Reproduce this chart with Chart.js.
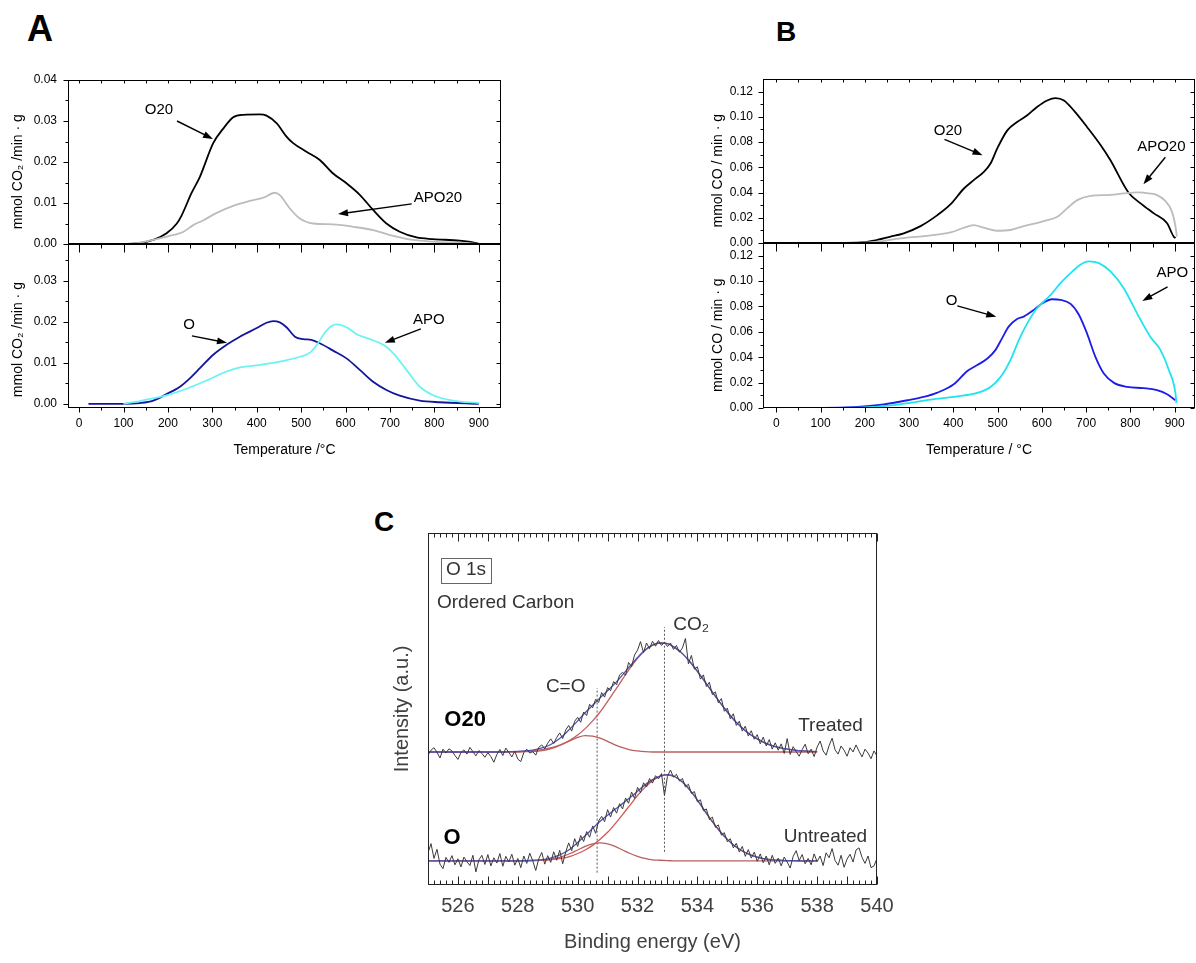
<!DOCTYPE html>
<html>
<head>
<meta charset="utf-8">
<script src="https://cdn.jsdelivr.net/npm/chart.js@4.4.1/dist/chart.umd.min.js"></script>
<style>
  body { margin: 0; background: #fff; width: 1196px; height: 963px; position: relative; overflow: hidden; font-family: "Liberation Sans", Arial, sans-serif; }
  canvas { position: absolute; }
  .tag { position: absolute; font-weight: bold; line-height: 1; color: #000; }
</style>
</head>
<body>
<div class="tag" style="left:27px;top:11px;font-size:36px">A</div>
<div class="tag" style="left:776px;top:18px;font-size:28px">B</div>
<div class="tag" style="left:374px;top:508px;font-size:28px">C</div>

<canvas id="aTop" width="510" height="186" style="left:0;top:70px"></canvas>
<canvas id="aBot" width="510" height="234" style="left:0;top:236px"></canvas>
<canvas id="bTop" width="506" height="186" style="left:690px;top:70px"></canvas>
<canvas id="bBot" width="506" height="234" style="left:690px;top:236px"></canvas>
<canvas id="xps" width="540" height="445" style="left:380px;top:515px"></canvas>

<script>
// ---- A: CO2 evolution (mmol CO2 / min g) vs temperature
const aO20T = [20, 107, 167, 197, 220, 231, 253, 272, 302, 325, 347, 370, 407, 422, 445, 467, 482, 512, 542, 572, 602, 632, 662, 692, 722, 760, 797, 857, 895, 900];
const aO20V = [0, 0, 0.001, 0.0026, 0.005, 0.007, 0.0124, 0.0164, 0.0246, 0.0282, 0.0309, 0.0315, 0.0316, 0.0313, 0.0294, 0.0262, 0.0246, 0.0225, 0.0205, 0.0172, 0.0148, 0.012, 0.0083, 0.005, 0.003, 0.0016, 0.0012, 0.0008, 0.0002, 0];
const aAPO20T = [120, 167, 197, 235, 257, 280, 310, 347, 385, 415, 441, 452, 475, 497, 527, 572, 617, 662, 707, 752, 797, 872, 900];
const aAPO20V = [0, 0.001, 0.0018, 0.003, 0.0046, 0.0058, 0.0076, 0.0093, 0.0105, 0.0113, 0.0125, 0.0119, 0.0086, 0.0062, 0.005, 0.0048, 0.0042, 0.0034, 0.002, 0.001, 0.0006, 0.0002, 0];
const aOT = [21, 100, 137, 167, 197, 227, 250, 272, 302, 332, 362, 400, 422, 437, 452, 467, 486, 505, 523, 542, 572, 602, 632, 662, 692, 722, 767, 812, 900];
const aOV = [0, 0, 0.0002, 0.0008, 0.0024, 0.0042, 0.0063, 0.0087, 0.012, 0.0144, 0.0164, 0.0185, 0.0198, 0.0202, 0.0199, 0.0187, 0.0164, 0.0158, 0.0156, 0.0148, 0.013, 0.0111, 0.0083, 0.0054, 0.0034, 0.002, 0.0008, 0.0004, 0];
const aAPOT = [100, 137, 160, 197, 242, 287, 332, 362, 407, 452, 497, 520, 538, 557, 580, 602, 625, 655, 685, 707, 737, 767, 797, 842, 900];
const aAPOV = [0, 0.0007, 0.0012, 0.0021, 0.0037, 0.0057, 0.0079, 0.0089, 0.0095, 0.0103, 0.0115, 0.0125, 0.0148, 0.0179, 0.0194, 0.0187, 0.017, 0.0158, 0.0144, 0.0124, 0.0083, 0.0042, 0.0021, 0.0008, 0.0002];

// ---- B: CO evolution (mmol CO / min g) vs temperature
const bO20T = [25, 183, 228, 258, 288, 326, 364, 394, 424, 446, 469, 484, 499, 522, 544, 567, 589, 612, 631, 650, 672, 702, 733, 755, 796, 823, 853, 883, 898, 902];
const bO20V = [0, 0.0003, 0.0024, 0.005, 0.0077, 0.0134, 0.0221, 0.0308, 0.0432, 0.0498, 0.0564, 0.063, 0.0748, 0.0893, 0.0959, 0.1012, 0.1078, 0.113, 0.1149, 0.113, 0.1051, 0.092, 0.0775, 0.0656, 0.0398, 0.0314, 0.0235, 0.0156, 0.005, 0.004];
const bAPO20T = [183, 228, 281, 334, 394, 424, 446, 469, 499, 529, 559, 605, 635, 657, 680, 710, 755, 785, 815, 845, 860, 877, 894, 902, 905];
const bAPO20V = [0, 0.001, 0.0037, 0.0055, 0.0084, 0.0121, 0.0142, 0.0121, 0.0097, 0.0103, 0.0134, 0.0174, 0.0208, 0.0274, 0.034, 0.0374, 0.0382, 0.0393, 0.0401, 0.0392, 0.038, 0.034, 0.0247, 0.0129, 0.005];
const bOT = [17, 145, 198, 243, 296, 333, 364, 401, 431, 454, 477, 495, 510, 525, 544, 559, 582, 601, 623, 642, 665, 684, 702, 721, 740, 763, 793, 830, 860, 883, 902];
const bOV = [0, 0.0003, 0.0013, 0.0029, 0.0061, 0.0087, 0.0121, 0.0187, 0.029, 0.0338, 0.039, 0.0456, 0.0549, 0.0641, 0.0701, 0.072, 0.0773, 0.0825, 0.0857, 0.0852, 0.082, 0.0733, 0.0588, 0.0403, 0.0272, 0.0198, 0.0166, 0.0156, 0.014, 0.0108, 0.0061];
const bAPOT = [145, 221, 288, 349, 409, 454, 484, 507, 529, 548, 567, 589, 620, 642, 665, 687, 706, 729, 755, 785, 815, 845, 868, 887, 902, 904];
const bAPOV = [0, 0.0008, 0.0034, 0.0066, 0.0092, 0.0119, 0.0166, 0.0245, 0.0377, 0.0535, 0.0667, 0.0786, 0.0891, 0.0984, 0.1063, 0.1129, 0.1155, 0.1142, 0.1076, 0.0944, 0.0746, 0.0562, 0.0456, 0.0298, 0.0113, 0.004];

// tick positions
const tXMajor = [0, 100, 200, 300, 400, 500, 600, 700, 800, 900];
const tXMinor = [50, 150, 250, 350, 450, 550, 650, 750, 850];
const aTopYMajor = [0, 0.01, 0.02, 0.03, 0.04];
const aBotYMajor = [0, 0.01, 0.02, 0.03];
const aYMinor = [0.005, 0.015, 0.025, 0.035];
const bYMajor = [0, 0.02, 0.04, 0.06, 0.08, 0.10, 0.12];
const bYMinor = [0.01, 0.03, 0.05, 0.07, 0.09, 0.11];

// ---- C: O 1s XPS (arbitrary intensity units)
const xpsE = [525.0,525.1,525.2,525.3,525.4,525.5,525.6,525.7,525.8,525.9,
  526.0,526.1,526.2,526.3,526.4,526.5,526.6,526.7,526.8,526.9,
  527.0,527.1,527.2,527.3,527.4,527.5,527.6,527.7,527.8,527.9,
  528.0,528.1,528.2,528.3,528.4,528.5,528.6,528.7,528.8,528.9,
  529.0,529.1,529.2,529.3,529.4,529.5,529.6,529.7,529.8,529.9,
  530.0,530.1,530.2,530.3,530.4,530.5,530.6,530.7,530.8,530.9,
  531.0,531.1,531.2,531.3,531.4,531.5,531.6,531.7,531.8,531.9,
  532.0,532.1,532.2,532.3,532.4,532.5,532.6,532.7,532.8,532.9,
  533.0,533.1,533.2,533.3,533.4,533.5,533.6,533.7,533.8,533.9,
  534.0,534.1,534.2,534.3,534.4,534.5,534.6,534.7,534.8,534.9,
  535.0,535.1,535.2,535.3,535.4,535.5,535.6,535.7,535.8,535.9,
  536.0,536.1,536.2,536.3,536.4,536.5,536.6,536.7,536.8,536.9,
  537.0,537.1,537.2,537.3,537.4,537.5,537.6,537.7,537.8,537.9,
  538.0,538.1,538.2,538.3,538.4,538.5,538.6,538.7,538.8,538.9,
  539.0,539.1,539.2,539.3,539.4,539.5,539.6,539.7,539.8,539.9,540.0];
const rawTreated = [37.2,38.6,39.3,38.0,36.4,38.9,37.8,39.0,38.4,37.1,
  36.0,37.9,38.7,37.5,39.4,38.2,37.0,38.5,37.7,36.6,
  37.9,36.8,35.2,37.4,38.8,37.1,39.2,38.0,36.7,38.3,
  36.1,35.4,37.9,38.9,37.8,38.2,37.2,39.4,40.1,39.0,
  40.6,41.8,40.5,42.2,43.5,41.9,44.3,45.6,44.0,46.8,
  47.9,46.5,49.4,48.4,51.6,50.6,53.0,52.1,54.9,53.6,
  56.3,55.4,58.0,57.1,59.9,60.6,59.8,63.4,62.2,65.5,
  66.9,69.3,66.2,68.9,67.3,69.4,68.0,69.6,68.2,69.1,
  67.9,68.9,67.1,68.2,66.3,67.5,70.2,63.0,65.4,61.5,
  62.2,58.7,59.9,56.6,57.8,54.3,55.1,52.0,53.2,49.6,
  50.5,47.5,48.9,45.6,46.8,44.0,45.4,42.6,44.1,41.7,
  43.0,40.4,42.3,39.8,41.6,38.9,40.7,38.6,40.4,37.7,
  41.9,37.4,39.6,38.2,36.9,38.8,40.3,37.6,38.9,36.8,
  39.5,41.2,38.4,37.2,39.9,42.0,38.7,37.5,39.8,38.6,
  36.9,39.3,38.1,40.1,38.3,36.7,38.9,37.8,36.2,38.4,37.0];
const rawUntreated = [9.6,12.2,8.0,10.6,6.4,5.1,8.3,6.9,8.8,6.2,
  7.9,5.6,8.4,7.1,6.0,8.9,4.2,7.6,8.9,6.3,
  9.1,5.9,8.2,6.7,9.4,5.8,8.6,7.0,9.2,6.1,
  8.0,5.4,8.7,6.6,9.5,7.3,4.6,7.9,9.7,6.4,
  8.8,6.9,9.9,7.5,10.3,6.5,9.8,12.4,10.2,13.6,
  11.4,14.5,12.8,15.6,14.0,17.2,15.1,18.6,19.9,18.4,
  21.8,19.7,22.4,20.8,23.5,22.0,25.1,23.6,26.8,25.0,
  28.1,26.6,29.4,28.2,30.6,29.3,31.4,30.5,32.0,25.8,
  31.2,33.0,31.0,31.8,29.9,30.6,28.2,29.0,26.4,26.9,
  24.0,24.6,21.5,22.0,19.0,19.7,16.8,17.5,14.6,15.3,
  12.7,13.6,11.0,12.3,9.8,11.4,8.6,10.5,8.1,9.8,
  7.2,9.3,6.8,8.7,6.2,8.9,6.6,8.1,5.9,8.4,
  7.0,5.3,8.6,10.2,7.4,9.1,6.5,8.0,6.2,9.3,
  7.1,8.7,6.0,9.6,8.2,10.8,7.4,6.1,8.9,5.5,
  7.8,9.2,7.0,10.4,11.0,8.3,6.6,8.7,5.4,5.9,8.0];

const fitE = [525,525.25,525.5,525.75,526,526.25,526.5,526.75,527,527.25,527.5,527.75,
  528,528.25,528.5,528.75,529,529.25,529.5,529.75,530,530.25,530.5,530.75,
  531,531.25,531.5,531.75,532,532.25,532.5,532.75,533,533.25,533.5,533.75,
  534,534.25,534.5,534.75,535,535.25,535.5,535.75,536,536.25,536.5,536.75,
  537,537.25,537.5,537.75,538];
const tMain = [38.1,38.1,38.1,38.1,38.1,38.1,38.1,38.1,38.1,38.1,38.1,38.2,
  38.2,38.3,38.5,38.7,39.1,39.6,40.4,41.5,42.9,44.7,46.9,49.4,
  52.4,55.5,58.7,61.8,64.6,66.8,68.3,68.9,68.7,67.6,65.9,63.6,
  60.9,58.0,55.0,52.1,49.4,46.9,44.9,43.1,41.8,40.7,39.9,39.3,
  38.9,38.6,38.4,38.3,38.2];
const tCO = [38.1,38.1,38.1,38.1,38.1,38.1,38.1,38.1,38.1,38.1,38.1,38.1,
  38.1,38.2,38.2,38.4,38.8,39.4,40.3,41.3,42.2,42.7,42.6,42.0,
  41.1,40.1,39.3,38.7,38.4,38.2,38.1,38.1,38.1,38.1,38.1,38.1,
  38.1,38.1,38.1,38.1,38.1,38.1,38.1,38.1,38.1,38.1,38.1,38.1,
  38.1,38.1,38.1,38.1,38.1];
const tEnv = [38.1,38.1,38.1,38.1,38.1,38.1,38.1,38.1,38.1,38.1,38.1,38.2,
  38.3,38.4,38.6,39.1,39.8,41.0,42.6,44.7,46.9,49.2,51.3,53.4,
  55.4,57.5,59.9,62.4,64.8,66.9,68.3,68.9,68.7,67.6,65.9,63.6,
  60.9,58.0,55.0,52.1,49.4,46.9,44.9,43.1,41.8,40.7,39.9,39.3,
  38.9,38.6,38.4,38.3,38.2];
const uMain = [7.3,7.3,7.3,7.3,7.3,7.3,7.3,7.3,7.3,7.3,7.3,7.3,
  7.3,7.4,7.4,7.5,7.6,7.8,8.1,8.6,9.4,10.4,11.7,13.4,
  15.4,17.8,20.4,23.1,25.8,28.1,30.0,31.2,31.6,31.1,29.6,27.3,
  24.5,21.4,18.4,15.7,13.4,11.5,10.1,9.1,8.4,7.9,7.6,7.5,
  7.4,7.4,7.3,7.3,7.3];
const uCO = [7.3,7.3,7.3,7.3,7.3,7.3,7.3,7.3,7.3,7.3,7.3,7.3,
  7.3,7.3,7.4,7.5,7.6,8.0,8.6,9.4,10.4,11.4,12.1,12.4,
  12.1,11.4,10.4,9.4,8.6,8.0,7.6,7.5,7.4,7.3,7.3,7.3,
  7.3,7.3,7.3,7.3,7.3,7.3,7.3,7.3,7.3,7.3,7.3,7.3,
  7.3,7.3,7.3,7.3,7.3];
const uEnv = [7.3,7.3,7.3,7.3,7.3,7.3,7.3,7.3,7.3,7.3,7.3,7.3,
  7.3,7.4,7.5,7.6,7.9,8.5,9.4,10.7,12.5,14.4,16.5,18.5,
  20.2,21.9,23.5,25.2,27.0,28.8,30.3,31.3,31.7,31.1,29.6,27.3,
  24.5,21.4,18.4,15.7,13.4,11.5,10.1,9.1,8.4,7.9,7.6,7.5,
  7.4,7.4,7.3,7.3,7.3];
const dropCO = [[530.65, 530.65], [4.0, 56.2]];
const dropCO2 = [[532.9, 532.9], [9.9, 73.4]];
const cXLabels = [526, 528, 530, 532, 534, 536, 538, 540];
const cXMajor = [525, 526, 527, 528, 529, 530, 531, 532, 533, 534, 535, 536, 537, 538, 539, 540];
const cXMinor = cXMajor.slice(0, -1).flatMap(v => [0.2, 0.4, 0.6, 0.8].map(d => v + d));

const FONT = '"Liberation Sans", Arial, sans-serif';
const xy = (xs, ys) => xs.map((x, i) => ({x: x, y: ys[i]}));

// frame + tick marks drawn from the scales (len > 0 outward, < 0 inward)
function framePlugin(marks, color) {
  return {
    id: 'frameMarks',
    afterDraw(chart) {
      const {ctx, chartArea: a, scales} = chart;
      const L = Math.round(a.left) + 0.5, R = Math.round(a.right) - 0.5;
      const T = Math.round(a.top) + 0.5, B = Math.round(a.bottom) - 0.5;
      ctx.save();
      ctx.strokeStyle = color || '#000';
      ctx.lineWidth = 1;
      ctx.setLineDash([]);
      ctx.strokeRect(L, T, R - L, B - T);
      ctx.beginPath();
      marks.forEach(m => {
        const s = scales[m.axis];
        m.values.forEach(v => {
          const p = Math.round(s.getPixelForValue(v)) + 0.5;
          if (m.side === 'bottom') { ctx.moveTo(p, B); ctx.lineTo(p, B + m.len); }
          if (m.side === 'top') { ctx.moveTo(p, T); ctx.lineTo(p, T - m.len); }
          if (m.side === 'left') { ctx.moveTo(L, p); ctx.lineTo(L - m.len, p); }
          if (m.side === 'right') { ctx.moveTo(R, p); ctx.lineTo(R + m.len, p); }
        });
      });
      ctx.stroke();
      ctx.restore();
    }
  };
}

// labels and arrows placed in data coordinates
function notesPlugin(texts, arrows) {
  return {
    id: 'notes',
    afterDatasetsDraw(chart) {
      const {ctx, scales: {x, y}} = chart;
      ctx.save();
      texts.forEach(t => {
        ctx.font = t.font || ('15px ' + FONT);
        ctx.fillStyle = t.color || '#000';
        ctx.textAlign = t.align || 'center';
        ctx.textBaseline = 'middle';
        const px = x.getPixelForValue(t.x), py = y.getPixelForValue(t.y);
        ctx.fillText(t.text, px, py);
        if (t.box) {
          const w = ctx.measureText(t.text).width;
          ctx.strokeStyle = '#666';
          ctx.lineWidth = 1;
          ctx.strokeRect(Math.round(px - w / 2 - 5) + 0.5, Math.round(py - 12) + 0.5, Math.round(w + 10), 25);
        }
      });
      ctx.fillStyle = '#000';
      ctx.strokeStyle = '#000';
      ctx.lineWidth = 1.4;
      arrows.forEach(r => {
        const x1 = x.getPixelForValue(r[0]), y1 = y.getPixelForValue(r[1]);
        const x2 = x.getPixelForValue(r[2]), y2 = y.getPixelForValue(r[3]);
        const ang = Math.atan2(y2 - y1, x2 - x1), h = 10, w = 3.5;
        const c = Math.cos(ang), s = Math.sin(ang);
        ctx.beginPath();
        ctx.moveTo(x1, y1);
        ctx.lineTo(x2 - h * 0.8 * c, y2 - h * 0.8 * s);
        ctx.stroke();
        ctx.beginPath();
        ctx.moveTo(x2, y2);
        ctx.lineTo(x2 - h * c + w * s, y2 - h * s - w * c);
        ctx.lineTo(x2 - h * c - w * s, y2 - h * s + w * c);
        ctx.closePath();
        ctx.fill();
      });
      ctx.restore();
    }
  };
}

function tempChart(id, o) {
  const xScale = {
    type: 'linear', min: o.xMin, max: o.xMax, display: o.showX,
    grid: {display: false, drawTicks: false}, border: {display: false},
    afterBuildTicks: s => { s.ticks = tXMajor.map(v => ({value: v})); },
    afterFit: s => { if (o.showX) s.height = 62; s.paddingLeft = 0; s.paddingRight = 0; },
    ticks: {padding: 8, autoSkip: false, maxRotation: 0, color: '#000', font: {family: FONT, size: 12}, callback: v => String(v)},
    title: {display: true, text: o.xTitle, color: '#000', font: {family: FONT, size: 14}, padding: {top: 0, bottom: 11.6}}
  };
  const yScale = {
    type: 'linear', min: o.yMin, max: o.yMax,
    grid: {display: false, drawTicks: false}, border: {display: false},
    afterBuildTicks: s => { s.ticks = o.yMajor.map(v => ({value: v})); },
    afterFit: s => { s.width = o.yWidth; s.paddingTop = 0; s.paddingBottom = 0; },
    ticks: {padding: o.yPad, autoSkip: false, color: '#000', font: {family: FONT, size: 12}, callback: v => v.toFixed(2)},
    title: {display: true, text: o.yTitle + o.yShift, color: '#000', font: {family: FONT, size: 14}, padding: {top: o.yTitlePad, bottom: 0}}
  };
  const marks = [
    {axis: 'y', side: 'left', values: o.yMajor, len: 5},
    {axis: 'y', side: 'left', values: o.yMinor, len: 3},
    {axis: 'y', side: 'right', values: o.yMajor, len: -4},
    {axis: 'y', side: 'right', values: o.yMinor, len: -2}
  ];
  if (o.showX) {
    marks.push({axis: 'x', side: 'top', values: tXMajor, len: -8});
    marks.push({axis: 'x', side: 'top', values: tXMinor, len: -4});
    marks.push({axis: 'x', side: 'bottom', values: tXMajor, len: 5});
    marks.push({axis: 'x', side: 'bottom', values: tXMinor, len: 3});
  } else {
    marks.push({axis: 'x', side: 'top', values: tXMajor.concat(tXMinor), len: -3});
  }
  return new Chart(document.getElementById(id), {
    type: 'line',
    data: {
      datasets: o.series.map(s => ({
        data: xy(s[0], s[1]), borderColor: s[2], borderWidth: 1.8,
        pointRadius: 0, fill: false, tension: 0.4, cubicInterpolationMode: 'monotone'
      }))
    },
    options: {
      responsive: false, animation: false, events: [],
      layout: {padding: o.pad},
      plugins: {legend: {display: false}, tooltip: {enabled: false}},
      scales: {x: xScale, y: yScale}
    },
    plugins: [framePlugin(marks, '#000'), notesPlugin(o.texts, o.arrows)]
  });
}

const aCommon = {xMin: -25, xMax: 950, yWidth: 68, yPad: 11, yTitlePad: 9.6,
  yTitle: 'mmol CO\u2082 /min \u00b7 g', xTitle: 'Temperature /\u00b0C'};
const bCommon = {xMin: -30, xMax: 946, yWidth: 73, yPad: 10, yTitlePad: 19.6,
  yTitle: 'mmol CO / min \u00b7 g', xTitle: 'Temperature / \u00b0C', yShift: '     '};

tempChart('aTop', Object.assign({}, aCommon, {
  showX: false, yMin: 0, yMax: 0.04, yMajor: aTopYMajor, yMinor: aYMinor, yShift: '     ',
  pad: {top: 10, right: 9, bottom: 12, left: 0},
  series: [[aAPO20T, aAPO20V, '#bcbcbc'], [aO20T, aO20V, '#000000']],
  texts: [{text: 'O20', x: 180, y: 0.0327}, {text: 'APO20', x: 808, y: 0.0112}],
  arrows: [[220.5, 0.0300, 301.5, 0.0256], [749, 0.0098, 583, 0.0073]]
}));
tempChart('aBot', Object.assign({}, aCommon, {
  showX: true, yMin: -0.001, yMax: 0.039, yMajor: aBotYMajor, yMinor: aYMinor, yShift: '       ',
  pad: {top: 8, right: 9, bottom: 0, left: 0},
  series: [[aAPOT, aAPOV, '#6af3f3'], [aOT, aOV, '#15159c']],
  texts: [{text: 'O', x: 247.5, y: 0.0193}, {text: 'APO', x: 787.5, y: 0.0205}],
  arrows: [[254, 0.0166, 333, 0.0149], [769.5, 0.0183, 688.5, 0.0149]]
}));
tempChart('bTop', Object.assign({}, bCommon, {
  showX: false, yMin: 0, yMax: 0.13, yMajor: bYMajor, yMinor: bYMinor,
  pad: {top: 9, right: 1, bottom: 13, left: 0},
  series: [[bAPO20T, bAPO20V, '#bcbcbc'], [bO20T, bO20V, '#000000']],
  texts: [{text: 'O20', x: 388, y: 0.0885}, {text: 'APO20', x: 870, y: 0.0759}],
  arrows: [[380, 0.0822, 466, 0.0696], [879, 0.068, 829.5, 0.0466]]
}));
tempChart('bBot', Object.assign({}, bCommon, {
  showX: true, yMin: 0, yMax: 0.13, yMajor: bYMajor, yMinor: bYMinor,
  pad: {top: 7, right: 1, bottom: 0, left: 0},
  series: [[bAPOT, bAPOV, '#1ee4ee'], [bOT, bOV, '#1d1de6']],
  texts: [{text: 'O', x: 396, y: 0.0844}, {text: 'APO', x: 895, y: 0.1066}],
  arrows: [[409, 0.0805, 497, 0.0718], [884, 0.0955, 827, 0.0844]]
}));

// ---- C
const line = (xs, ys, color, width, extra) => Object.assign({
  data: xy(xs, ys), borderColor: color, borderWidth: width, pointRadius: 0, fill: false, tension: 0
}, extra || {});
const smooth = {tension: 0.4, cubicInterpolationMode: 'monotone'};
const cText = '#333';
const cMarks = [
  {axis: 'x', side: 'bottom', values: cXMajor, len: -8},
  {axis: 'x', side: 'bottom', values: cXMinor, len: -4},
  {axis: 'x', side: 'top', values: cXMajor, len: -8},
  {axis: 'x', side: 'top', values: cXMinor, len: -4}
];
const cTexts = [
  {text: 'O 1s', x: 526.27, y: 89.5, font: '19px ' + FONT, color: cText, box: true},
  {text: 'Ordered Carbon', x: 525.3, y: 80.2, align: 'left', font: '19px ' + FONT, color: cText},
  {text: 'CO\u2082', x: 533.19, y: 74.0, align: 'left', font: '19px ' + FONT, color: cText},
  {text: 'C=O', x: 529.6, y: 56.5, font: '19px ' + FONT, color: cText},
  {text: 'O20', x: 526.24, y: 47.2, font: 'bold 22px ' + FONT, color: '#000'},
  {text: 'Treated', x: 539.53, y: 45.5, align: 'right', font: '19px ' + FONT, color: cText},
  {text: 'Untreated', x: 539.67, y: 14.1, align: 'right', font: '19px ' + FONT, color: cText},
  {text: 'O', x: 525.8, y: 13.8, font: 'bold 22px ' + FONT, color: '#000'}
];

new Chart(document.getElementById('xps'), {
  type: 'line',
  data: {
    datasets: [
      line(xpsE, rawTreated, '#3a3a3a', 1),
      line(xpsE, rawUntreated, '#3a3a3a', 1),
      line(fitE, tEnv, '#5252b4', 1.3, smooth),
      line(fitE, uEnv, '#5252b4', 1.3, smooth),
      line(fitE, tMain, '#c0605c', 1.3, smooth),
      line(fitE, tCO, '#b86060', 1.3, smooth),
      line(fitE, uMain, '#d05858', 1.3, smooth),
      line(fitE, uCO, '#b86060', 1.3, smooth),
      line(dropCO[0], dropCO[1], '#555', 1, {borderDash: [2, 2]}),
      line(dropCO2[0], dropCO2[1], '#555', 1, {borderDash: [2, 2]})
    ]
  },
  options: {
    responsive: false, animation: false, events: [],
    layout: {padding: {top: 18, right: 43, bottom: 0, left: 0}},
    plugins: {legend: {display: false}, tooltip: {enabled: false}},
    scales: {
      x: {
        type: 'linear', min: 525, max: 540,
        grid: {display: false, drawTicks: false}, border: {display: false},
        afterBuildTicks: s => { s.ticks = cXLabels.map(v => ({value: v})); },
        afterFit: s => { s.height = 75; s.paddingLeft = 0; s.paddingRight = 0; },
        ticks: {padding: 9, autoSkip: false, maxRotation: 0, color: '#404040', font: {family: FONT, size: 20}, callback: v => String(v)},
        title: {display: true, text: 'Binding energy (eV)', color: '#404040', font: {family: FONT, size: 20}, padding: {top: 0, bottom: 6}}
      },
      y: {
        type: 'linear', min: 0.5, max: 100,
        grid: {display: false, drawTicks: false}, border: {display: false},
        afterFit: s => { s.width = 48; s.paddingTop = 0; s.paddingBottom = 0; },
        ticks: {display: false},
        title: {display: true, text: 'Intensity (a.u.)', color: '#404040', font: {family: FONT, size: 20}, padding: {top: 10, bottom: 0}}
      }
    }
  },
  plugins: [framePlugin(cMarks, '#222'), notesPlugin(cTexts, [])]
});
</script>
</body>
</html>
